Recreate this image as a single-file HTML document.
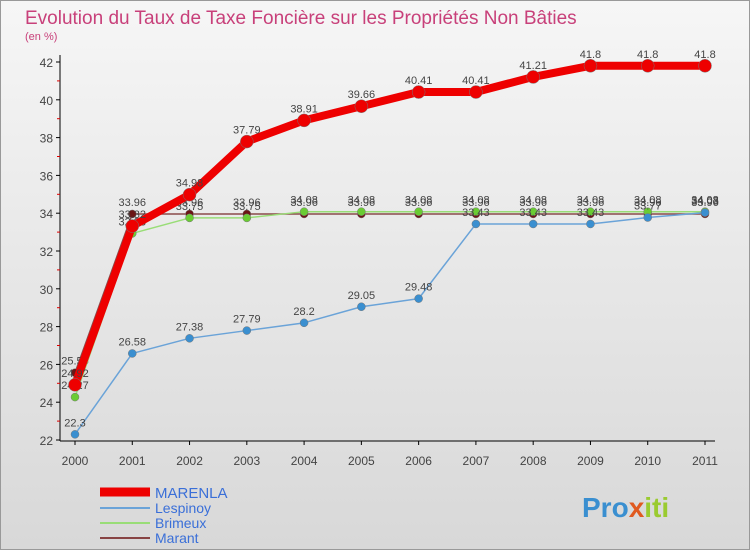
<!DOCTYPE html>
<html><head><meta charset="utf-8"><style>
body{margin:0;width:750px;height:550px;overflow:hidden;font-family:"Liberation Sans",sans-serif;}
</style></head><body>
<svg width="750" height="550" xmlns="http://www.w3.org/2000/svg">
<defs><linearGradient id="bg" x1="0" y1="0" x2="0" y2="1"><stop offset="0" stop-color="#f6f6f6"/><stop offset="1" stop-color="#d8d8d8"/></linearGradient></defs>
<rect x="0.5" y="0.5" width="749" height="549" fill="url(#bg)" stroke="#999"/>
<text x="25" y="24" font-size="19" fill="#c8407a">Evolution du Taux de Taxe Foncière sur les Propriétés Non Bâties</text>
<text x="25" y="40" font-size="11" fill="#c8407a">(en %)</text>
<g id="axes"></g>
<g id="series"></g>
<g id="legend">
<line x1="100" y1="492" x2="150" y2="492" stroke="#ee0000" stroke-width="9"/>
<text x="155" y="498" font-size="15" fill="#3a6fd8">MARENLA</text>
<line x1="100" y1="508" x2="150" y2="508" stroke="#6aa3d8" stroke-width="2"/>
<text x="155" y="513" font-size="14" fill="#3a6fd8">Lespinoy</text>
<line x1="100" y1="523" x2="150" y2="523" stroke="#99dd77" stroke-width="2"/>
<text x="155" y="528" font-size="14" fill="#3a6fd8">Brimeux</text>
<line x1="100" y1="538" x2="150" y2="538" stroke="#884444" stroke-width="2"/>
<text x="155" y="543" font-size="14" fill="#3a6fd8">Marant</text>
</g>
<text x="582" y="517" font-size="28" font-weight="bold"><tspan fill="#3a8fd0">Pro</tspan><tspan fill="#e05a20">x</tspan><tspan fill="#9acb30">iti</tspan></text>
</svg>
<script>
const years=["2000","2001","2002","2003","2004","2005","2006","2007","2008","2009","2010","2011"];
const marenla=[24.92,33.32,34.98,37.79,38.91,39.66,40.41,40.41,41.21,41.8,41.8,41.8];
const lespinoy=[22.3,26.58,27.38,27.79,28.2,29.05,29.48,33.43,33.43,33.43,33.77,34.03];
const brimeux=[24.27,32.93,33.75,33.75,34.08,34.08,34.08,34.08,34.08,34.08,34.08,34.08];
const marant=[25.56,33.96,33.96,33.96,33.96,33.96,33.96,33.96,33.96,33.96,33.96,33.96];
const yTicks=[22,24,26,28,30,32,34,36,38,40,42];
const NS="http://www.w3.org/2000/svg";
const X=i=>75+i*(630/11);
const Y=v=>440-(v-22)*(378/20);
function mk(t,a,p){const e=document.createElementNS(NS,t);for(const k in a)e.setAttribute(k,a[k]);p.appendChild(e);return e;}
const ax=document.getElementById('axes');
const yl=mk('line',{x1:60,y1:55,x2:60,y2:441,stroke:'#000'},ax);


const xl=mk('line',{x1:60,y1:441,x2:715,y2:441,stroke:'#000'},ax);


yTicks.forEach((v,i)=>{
 mk('line',{x1:56,y1:Y(v),x2:60,y2:Y(v),stroke:'#000'},ax);
 if(i<yTicks.length-1)mk('line',{x1:57,y1:Y(v+1),x2:60,y2:Y(v+1),stroke:'#d00'},ax);
 const t=mk('text',{x:53,y:Y(v)+5,'text-anchor':'end','font-size':12,fill:'#444'},ax);t.textContent=v;
 
 
});
years.forEach((y,i)=>{
 mk('line',{x1:X(i),y1:441,x2:X(i),y2:445,stroke:'#000'},ax);
 const t=mk('text',{x:X(i),y:465,'text-anchor':'middle','font-size':12,fill:'#444'},ax);t.textContent=y;
 
 
});
const sg=document.getElementById('series');
function series(name,vals,color,w,r,dot){
 const g=mk('g',{},sg);
 
 
 const pl=mk('polyline',{points:vals.map((v,i)=>X(i)+','+Y(v)).join(' '),fill:'none',stroke:color,'stroke-width':w,'stroke-linejoin':'round'},g);
 
 
 vals.forEach((v,i)=>{
  const c=mk('circle',{cx:X(i),cy:Y(v),r:r,fill:dot,stroke:'#777','stroke-width':0.5},g);
  
  
  const t=mk('text',{x:X(i),y:Y(v)-8,'text-anchor':'middle','font-size':11,fill:'#444'},g);t.textContent=v;
  
  
 });
}
series('marant',marant,'#8a4a4a',1.5,4,'#6b1515');
series('brimeux',brimeux,'#99dd77',1.5,4,'#6acc33');
series('lespinoy',lespinoy,'#6aa3d8',1.5,4,'#3a8fd0');
series('marenla',marenla,'#ee0000',8,6.5,'#ee0000');
</script>
</body></html>
